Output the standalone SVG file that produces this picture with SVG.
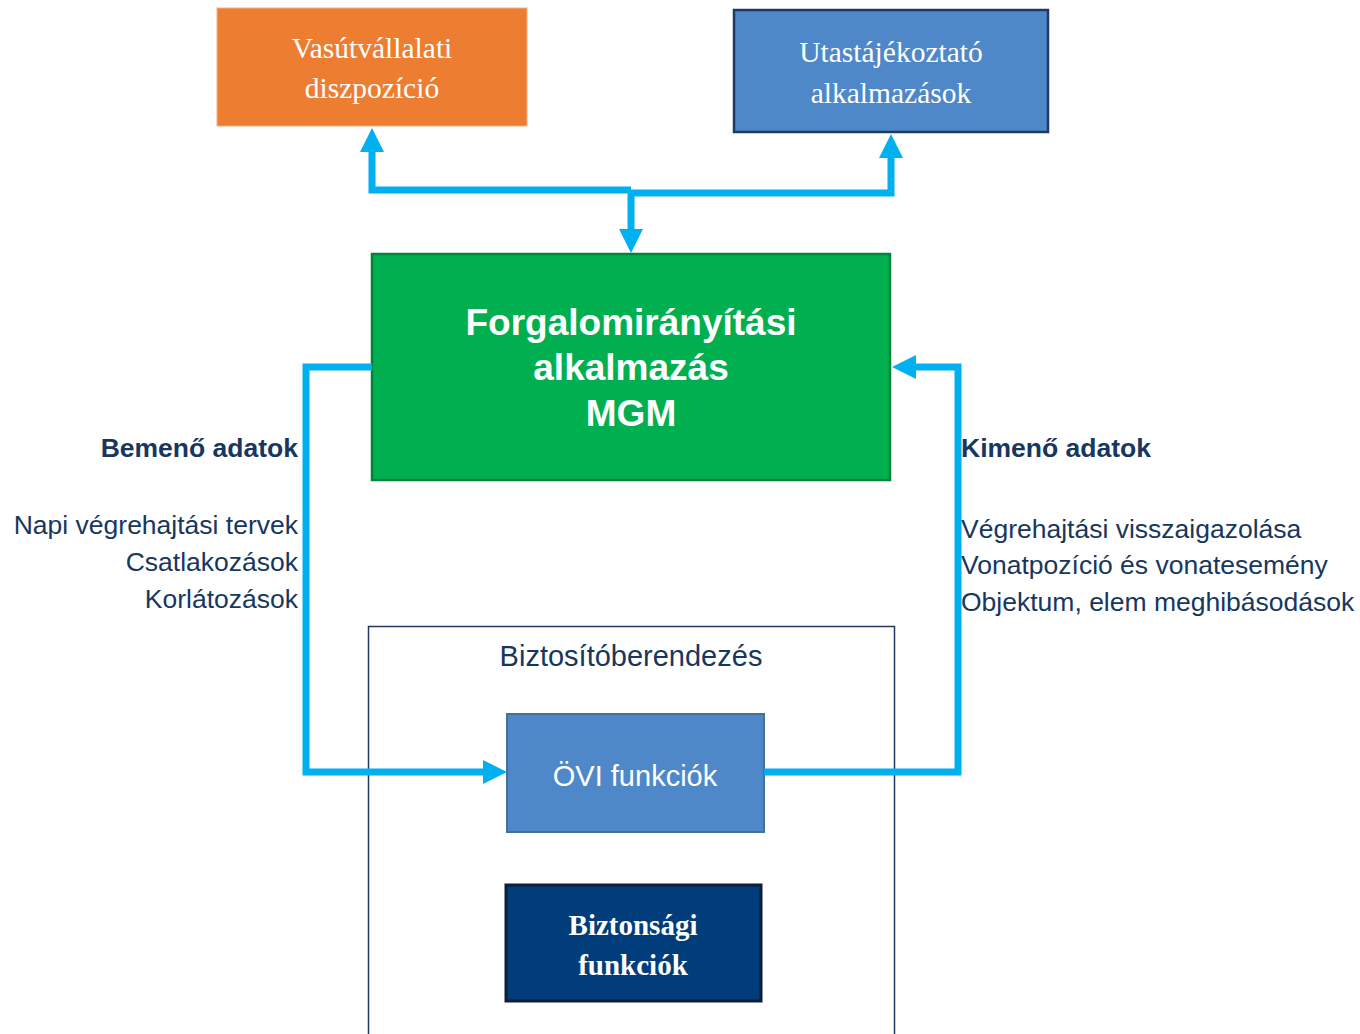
<svg xmlns="http://www.w3.org/2000/svg" width="1360" height="1034" viewBox="0 0 1360 1034">
<style>
.serif{font-family:"Liberation Serif","Times New Roman",serif;fill:#fff;text-anchor:middle}
.sans{font-family:"Liberation Sans",Arial,sans-serif}
.lbl{font-family:"Liberation Sans",Arial,sans-serif;fill:#17375E;font-size:26.5px}
.conn{fill:none;stroke:#00B0F0;stroke-width:7}
.head{fill:#00B0F0}
</style>
<rect width="1360" height="1034" fill="#fff"/>
<g id="vasut">
<rect x="217" y="8" width="310" height="118" fill="#ED7D31" stroke="#F4B183" stroke-width="1"/>
<text class="serif" x="372" y="58" font-size="29.5">Vasútvállalati</text>
<text class="serif" x="372" y="98" font-size="29.5">diszpozíció</text>
</g>
<g id="utas">
<rect x="734" y="10" width="314" height="122" fill="#4F88C8" stroke="#1F3864" stroke-width="2.5"/>
<text class="serif" x="891" y="62" font-size="29.5">Utastájékoztató</text>
<text class="serif" x="891" y="103" font-size="29.5">alkalmazások</text>
</g>
<g id="mgm">
<rect x="372" y="254" width="518" height="226" fill="#00B050" stroke="#00843A" stroke-width="2.5"/>
<text class="sans" x="631" y="335" font-size="37" font-weight="bold" fill="#fff" text-anchor="middle">Forgalomirányítási</text>
<text class="sans" x="631" y="380" font-size="37" font-weight="bold" fill="#fff" text-anchor="middle">alkalmazás</text>
<text class="sans" x="631" y="426" font-size="37" font-weight="bold" fill="#fff" text-anchor="middle">MGM</text>
</g>
<g id="biztosito">
<rect x="368.5" y="626.5" width="526" height="420" fill="none" stroke="#1F3864" stroke-width="1.5"/>
<text class="sans" x="631" y="666" font-size="29" fill="#17375E" text-anchor="middle">Biztosítóberendezés</text>
</g>
<g id="ovi">
<rect x="507" y="714" width="257" height="118" fill="#4F88C8" stroke="#41719C" stroke-width="2"/>
<text class="sans" x="635" y="786" font-size="29" fill="#fff" text-anchor="middle">ÖVI funkciók</text>
</g>
<g id="bizt">
<rect x="506" y="885" width="255" height="116" fill="#003D7A" stroke="#0F1F3A" stroke-width="3"/>
<text class="serif" x="633" y="935" font-size="29" font-weight="bold">Biztonsági</text>
<text class="serif" x="633" y="975" font-size="29" font-weight="bold">funkciók</text>
</g>
<g id="labels">
<text class="lbl" x="298" y="457" text-anchor="end" font-weight="bold">Bemenő adatok</text>
<text class="lbl" x="298" y="534" text-anchor="end">Napi végrehajtási tervek</text>
<text class="lbl" x="298" y="571" text-anchor="end">Csatlakozások</text>
<text class="lbl" x="298" y="608" text-anchor="end">Korlátozások</text>
<text class="lbl" x="961" y="457" font-weight="bold">Kimenő adatok</text>
<text class="lbl" x="961" y="538">Végrehajtási visszaigazolása</text>
<text class="lbl" x="961" y="574">Vonatpozíció és vonatesemény</text>
<text class="lbl" x="961" y="611">Objektum, elem meghibásodások</text>
</g>
<g id="connectors">
<polyline class="conn" points="372,150 372,190 631,190"/>
<polyline class="conn" points="891,155 891,193 631,193"/>
<polyline class="conn" points="631,190 631,232"/>
<polygon class="head" points="372,128 360,152 384,152"/>
<polygon class="head" points="891,134 879,158 903,158"/>
<polygon class="head" points="631,253 619,229 643,229"/>
<polyline class="conn" points="372,367 306,367 306,772 486,772"/>
<polygon class="head" points="507,772 483,760 483,784"/>
<polyline class="conn" points="764,772 958,772 958,367 914,367"/>
<polygon class="head" points="892,367 916,355 916,379"/>
</g>
</svg>
